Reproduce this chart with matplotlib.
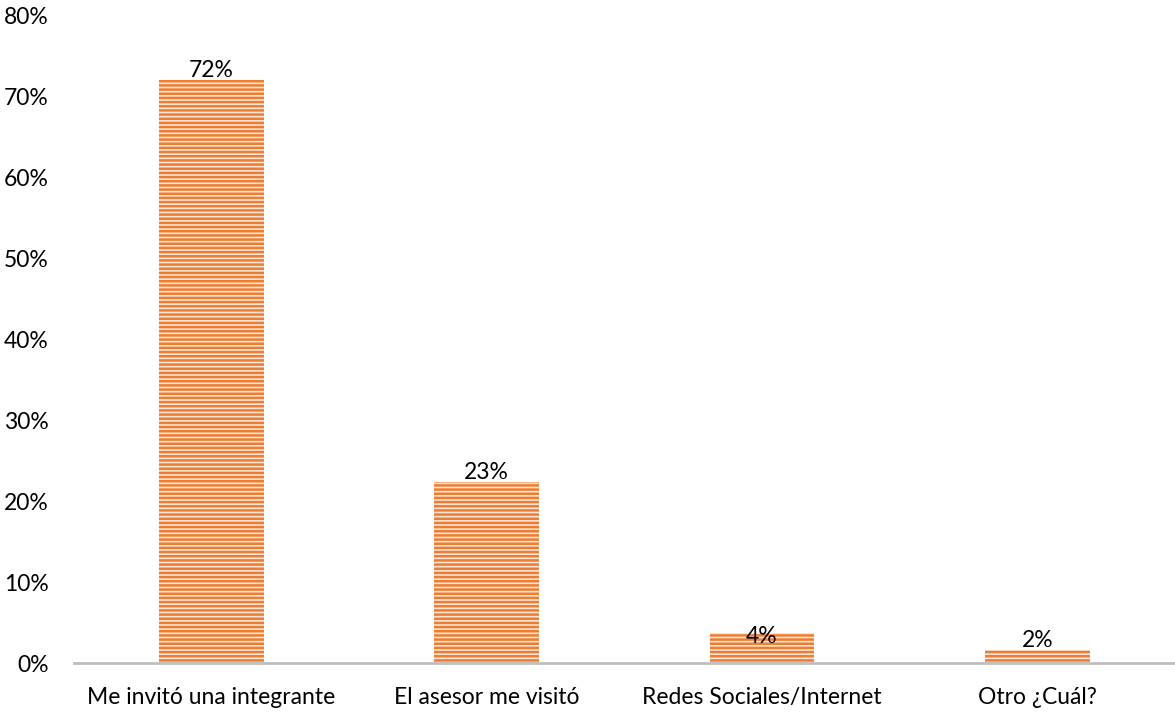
import numpy as np
import matplotlib.pyplot as plt

categories = ["Me invitó una integrante", "El asesor me visitó", "Redes Sociales/Internet", "Otro ¿Cuál?"]
values = [0.72, 0.224, 0.037, 0.016]
labels = ["72%", "23%", "4%", "2%"]

plt.rcParams["font.family"] = ["Lato", "DejaVu Sans"]
plt.rcParams["hatch.linewidth"] = 1.8

fig = plt.figure(figsize=(11.75, 7.12), dpi=100)
ax = fig.add_axes([0.0626, 0.0688, 0.9374, 0.9101])

x = np.arange(len(categories))
bars = ax.bar(x, values, width=0.38, color="#FBE5D6", edgecolor="#ED7D31",
              hatch="----", linewidth=0)

for b, v, lab in zip(bars, values, labels):
    # the 4% label sits on the bar top in the original
    off = -10 if lab == "4%" else -1
    ax.annotate(lab, (b.get_x() + b.get_width() / 2, v), xytext=(0, off),
                textcoords="offset points", ha="center", va="bottom", fontsize=16.5)

ax.set_xlim(-0.5, len(categories) - 0.5)
ax.set_ylim(0, 0.8)
ticks = np.arange(0, 0.81, 0.1)
ax.set_yticks(ticks)
ax.set_yticklabels([f"{int(round(t * 100))}%" for t in ticks], fontsize=16.5)
ax.set_xticks(x)
ax.set_xticklabels(categories, fontsize=16.5)
ax.tick_params(axis="both", length=0)
ax.tick_params(axis="x", pad=17)
ax.tick_params(axis="y", pad=18)

for s in ["top", "right", "left"]:
    ax.spines[s].set_visible(False)
ax.spines["bottom"].set_color("#BFBFBF")
ax.spines["bottom"].set_linewidth(2)

fig.savefig("out.png", dpi=100)
